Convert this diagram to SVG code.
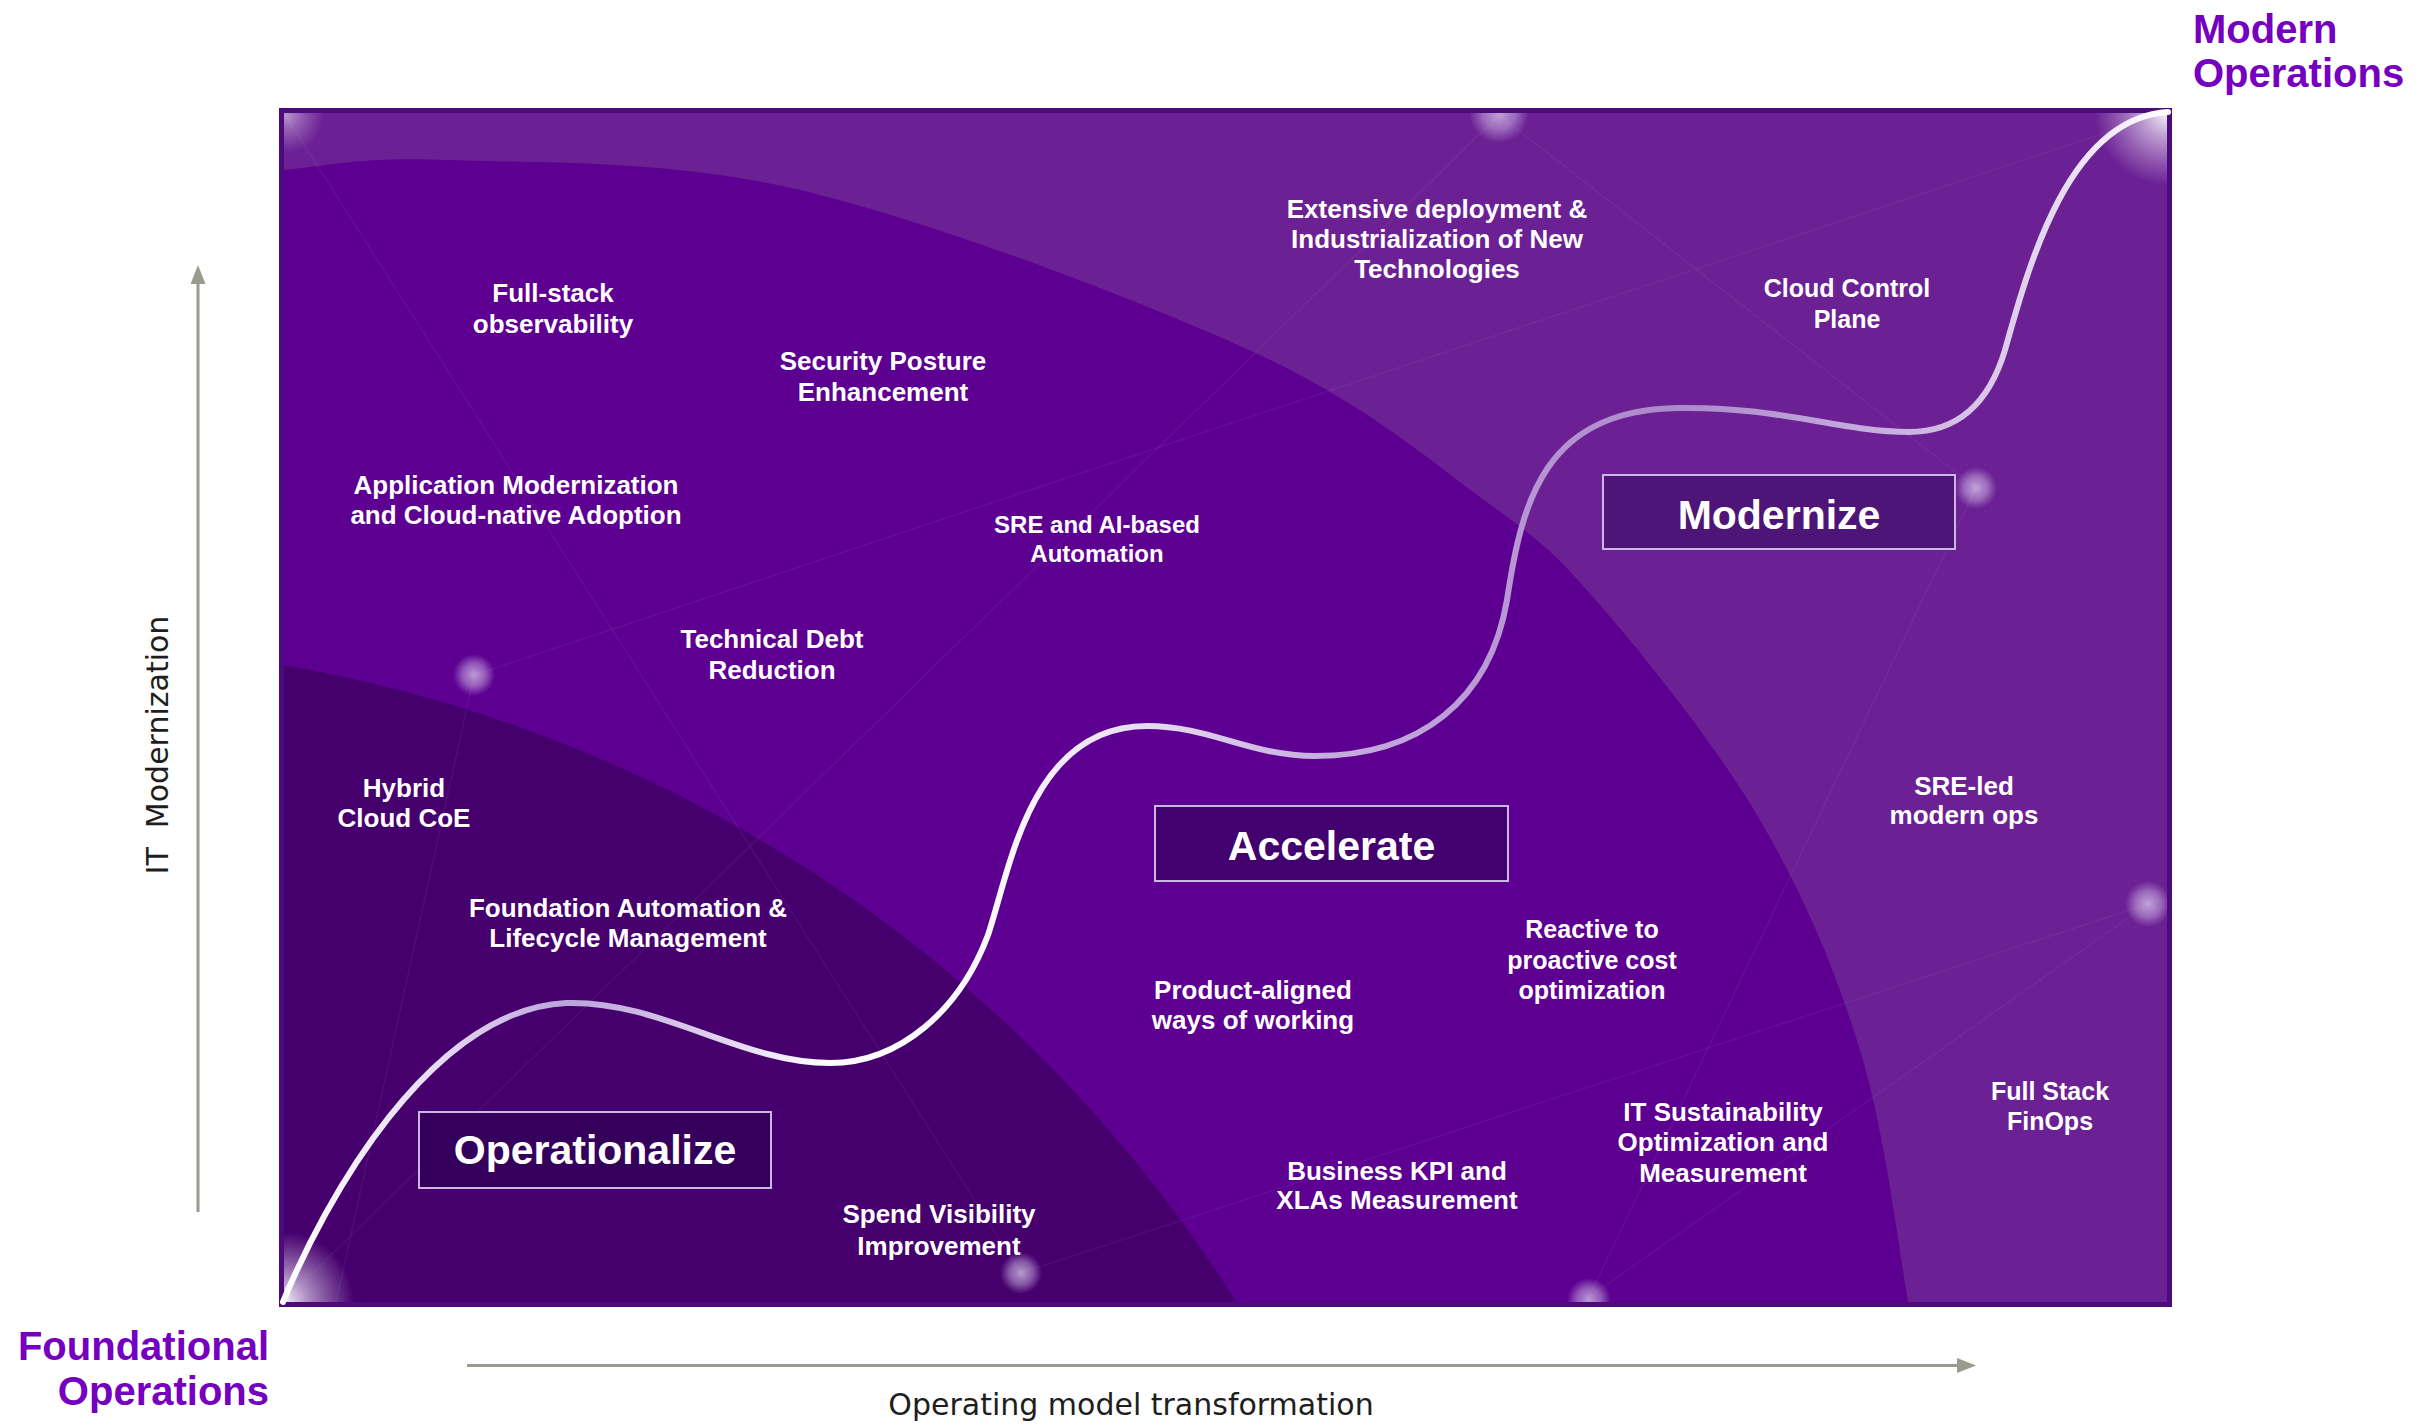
<svg xmlns="http://www.w3.org/2000/svg" width="2420" height="1425" viewBox="0 0 2420 1425">
  <style>
    .lbl text { font-family: "Liberation Sans", Arial, sans-serif; font-weight: 700; font-size: 26px; fill: #ffffff; text-anchor: middle; }
    .stage rect { stroke: #cbb8e2; stroke-width: 2; }
    .stage text { font-family: "Liberation Sans", Arial, sans-serif; font-weight: 700; font-size: 41px; fill: #ffffff; text-anchor: middle; }
    .corner { font-family: "Liberation Sans", Arial, sans-serif; font-weight: 700; font-size: 40px; fill: #7500c0; }
    .axis { font-family: "DejaVu Sans", "Liberation Sans", sans-serif; font-size: 30px; fill: #1e1e1e; }
    .net line { stroke: #ffffff; stroke-opacity: 0.05; stroke-width: 1.5; }
    .axis-line { stroke: #9a9a8f; stroke-width: 3; fill: none; }
  </style>
  <defs>
    <clipPath id="panel-clip">
      <rect x="284" y="113" width="1883" height="1189"/>
    </clipPath>
    <radialGradient id="glow">
      <stop offset="0" stop-color="#ffffff" stop-opacity="0.95"/>
      <stop offset="0.35" stop-color="#f2eaf8" stop-opacity="0.6"/>
      <stop offset="1" stop-color="#e6d8f2" stop-opacity="0"/>
    </radialGradient>
    <radialGradient id="dot">
      <stop offset="0" stop-color="#e8dcf4" stop-opacity="0.7"/>
      <stop offset="0.55" stop-color="#d8c4ec" stop-opacity="0.45"/>
      <stop offset="1" stop-color="#d0b8e8" stop-opacity="0"/>
    </radialGradient>
    <linearGradient id="curve-grad" gradientUnits="userSpaceOnUse" x1="283" y1="0" x2="2168" y2="0">
      <stop offset="0" stop-color="#ffffff"/>
      <stop offset="0.083" stop-color="#e6daf2"/>
      <stop offset="0.15" stop-color="#bba3d8"/>
      <stop offset="0.22" stop-color="#dacbea"/>
      <stop offset="0.29" stop-color="#ffffff"/>
      <stop offset="0.38" stop-color="#fbf8fd"/>
      <stop offset="0.46" stop-color="#e6daf2"/>
      <stop offset="0.55" stop-color="#c6aee0"/>
      <stop offset="0.645" stop-color="#b898d4"/>
      <stop offset="0.74" stop-color="#ac88cc"/>
      <stop offset="0.865" stop-color="#ccb4e2"/>
      <stop offset="0.937" stop-color="#e4d8ef"/>
      <stop offset="1" stop-color="#ffffff"/>
    </linearGradient>
    <marker id="arrow" markerUnits="userSpaceOnUse" markerWidth="19" markerHeight="15" refX="0" refY="7.5" orient="auto">
      <path d="M0,0 L19,7.5 L0,15 Z" fill="#9a9a8f"/>
    </marker>
  </defs>

  <!-- panel background with its three zones -->
  <g id="panel">
    <rect x="281.5" y="110.5" width="1888" height="1194" fill="#6b2194"/>
    <g clip-path="url(#panel-clip)">
      <path fill="#5d0091" d="M150,190 L284,170 C333.7,165 362,156.7 448,160 C534,163.3 666.5,158.3 800,190 C933.5,221.7 1135,298.3 1249,350 C1363,401.7 1425.5,457.5 1484,500 C1542.5,542.5 1554,551.7 1600,605 C1646,658.3 1716.7,745.8 1760,820 C1803.3,894.2 1835.2,968.8 1860,1050 C1884.8,1131.2 1897.3,1240.3 1909,1307 L1930,1450 L150,1450 Z"/>
      <circle cx="46" cy="2052" r="1407" fill="#45006d"/>
      <g class="net">
        <line x1="284" y1="113" x2="1021" y2="1273"/>
        <line x1="474" y1="675" x2="2168" y2="112"/>
        <line x1="1499" y1="115" x2="290" y2="1295"/>
        <line x1="1499" y1="115" x2="1976" y2="488"/>
        <line x1="1976" y1="488" x2="1589" y2="1297"/>
        <line x1="2148" y1="904" x2="1021" y2="1273"/>
        <line x1="2148" y1="904" x2="1589" y2="1297"/>
        <line x1="474" y1="675" x2="335" y2="1307"/>
      </g>
      <circle cx="284" cy="1302" r="70" fill="url(#glow)"/>
      <circle cx="2167" cy="113" r="72" fill="url(#glow)"/>
      <circle cx="286" cy="115" r="38" fill="url(#glow)" opacity="0.55"/>
      <circle cx="1499" cy="113" r="30" fill="url(#dot)"/>
      <circle cx="474" cy="675" r="21" fill="url(#dot)"/>
      <circle cx="1976" cy="488" r="21" fill="url(#dot)"/>
      <circle cx="2148" cy="904" r="23" fill="url(#dot)"/>
      <circle cx="1021" cy="1273" r="21" fill="url(#dot)"/>
      <circle cx="1589" cy="1300" r="22" fill="url(#dot)"/>
    </g>
    <rect x="281.5" y="110.5" width="1888" height="1194" fill="none" stroke="#4b0a7e" stroke-width="5"/>
  </g>

  <!-- progression curve and axes -->
  <g id="connectors">
    <path id="s-curve" fill="none" stroke="url(#curve-grad)" stroke-width="6" stroke-linecap="round" d="M283,1302 C325,1200 430,1010 566,1003 C660,1000 740,1063 830,1063 C900,1063 960,1010 988,935 C1010,870 1030,726 1147,726 C1210,726 1250,756 1315,756 C1420,756 1490,700 1507,600 C1522,500 1545,410 1678,408 C1780,406 1840,432 1909,432 C1960,432 1990,400 2005,350 C2030,260 2070,118 2168,112"/>
    <line id="y-axis" class="axis-line" x1="198" y1="1212" x2="198" y2="284" marker-end="url(#arrow)"/>
    <line id="x-axis" class="axis-line" x1="467" y1="1365.5" x2="1957" y2="1365.5" marker-end="url(#arrow)"/>
  </g>

  <!-- stage boxes -->
  <g id="stage-operationalize" class="stage">
    <rect x="419" y="1112" width="352" height="76" fill="#34005c"/>
    <text x="595" y="1164">Operationalize</text>
  </g>
  <g id="stage-accelerate" class="stage">
    <rect x="1155" y="806" width="353" height="75" fill="#43006f"/>
    <text x="1331.5" y="860">Accelerate</text>
  </g>
  <g id="stage-modernize" class="stage">
    <rect x="1603" y="475" width="352" height="74" fill="#4d1577"/>
    <text x="1779" y="529">Modernize</text>
  </g>

  <!-- capability labels -->
  <g id="cap-observability" class="lbl">
    <text x="553" y="302">Full-stack</text>
    <text x="553" y="333">observability</text>
  </g>
  <g id="cap-security" class="lbl">
    <text x="883" y="370">Security Posture</text>
    <text x="883" y="401">Enhancement</text>
  </g>
  <g id="cap-app-modernization" class="lbl">
    <text x="516" y="494">Application Modernization</text>
    <text x="516" y="524">and Cloud-native Adoption</text>
  </g>
  <g id="cap-sre-ai" class="lbl">
    <text x="1097" y="533" style="font-size:24px">SRE and AI-based</text>
    <text x="1097" y="562" style="font-size:24px">Automation</text>
  </g>
  <g id="cap-tech-debt" class="lbl">
    <text x="772" y="648">Technical Debt</text>
    <text x="772" y="679">Reduction</text>
  </g>
  <g id="cap-hybrid-coe" class="lbl">
    <text x="404" y="797">Hybrid</text>
    <text x="404" y="827">Cloud CoE</text>
  </g>
  <g id="cap-foundation" class="lbl">
    <text x="628" y="917">Foundation Automation &amp;</text>
    <text x="628" y="947">Lifecycle Management</text>
  </g>
  <g id="cap-spend" class="lbl">
    <text x="939" y="1223">Spend Visibility</text>
    <text x="939" y="1255">Improvement</text>
  </g>
  <g id="cap-product" class="lbl">
    <text x="1253" y="999">Product-aligned</text>
    <text x="1253" y="1029">ways of working</text>
  </g>
  <g id="cap-cost" class="lbl">
    <text x="1592" y="938" style="font-size:25px">Reactive to</text>
    <text x="1592" y="969" style="font-size:25px">proactive cost</text>
    <text x="1592" y="999" style="font-size:25px">optimization</text>
  </g>
  <g id="cap-kpi" class="lbl">
    <text x="1397" y="1180">Business KPI and</text>
    <text x="1397" y="1209">XLAs Measurement</text>
  </g>
  <g id="cap-sustainability" class="lbl">
    <text x="1723" y="1121">IT Sustainability</text>
    <text x="1723" y="1151">Optimization and</text>
    <text x="1723" y="1182">Measurement</text>
  </g>
  <g id="cap-sre-led" class="lbl">
    <text x="1964" y="795">SRE-led</text>
    <text x="1964" y="824">modern ops</text>
  </g>
  <g id="cap-finops" class="lbl">
    <text x="2050" y="1100" style="font-size:25px">Full Stack</text>
    <text x="2050" y="1130" style="font-size:25px">FinOps</text>
  </g>
  <g id="cap-control-plane" class="lbl">
    <text x="1847" y="297" style="font-size:25px">Cloud Control</text>
    <text x="1847" y="328" style="font-size:25px">Plane</text>
  </g>
  <g id="cap-new-tech" class="lbl">
    <text x="1437" y="218">Extensive deployment &amp;</text>
    <text x="1437" y="248">Industrialization of New</text>
    <text x="1437" y="278">Technologies</text>
  </g>

  <!-- end-point titles -->
  <g id="title-modern">
    <text class="corner" x="2193" y="43">Modern</text>
    <text class="corner" x="2193" y="87">Operations</text>
  </g>
  <g id="title-foundational">
    <text class="corner" x="269" y="1360" text-anchor="end">Foundational</text>
    <text class="corner" x="269" y="1405" text-anchor="end">Operations</text>
  </g>

  <!-- axis captions -->
  <text class="axis" transform="translate(168,745) rotate(-90)" text-anchor="middle" xml:space="preserve">IT  Modernization</text>
  <text class="axis" x="1131" y="1415" text-anchor="middle">Operating model transformation</text>
</svg>
